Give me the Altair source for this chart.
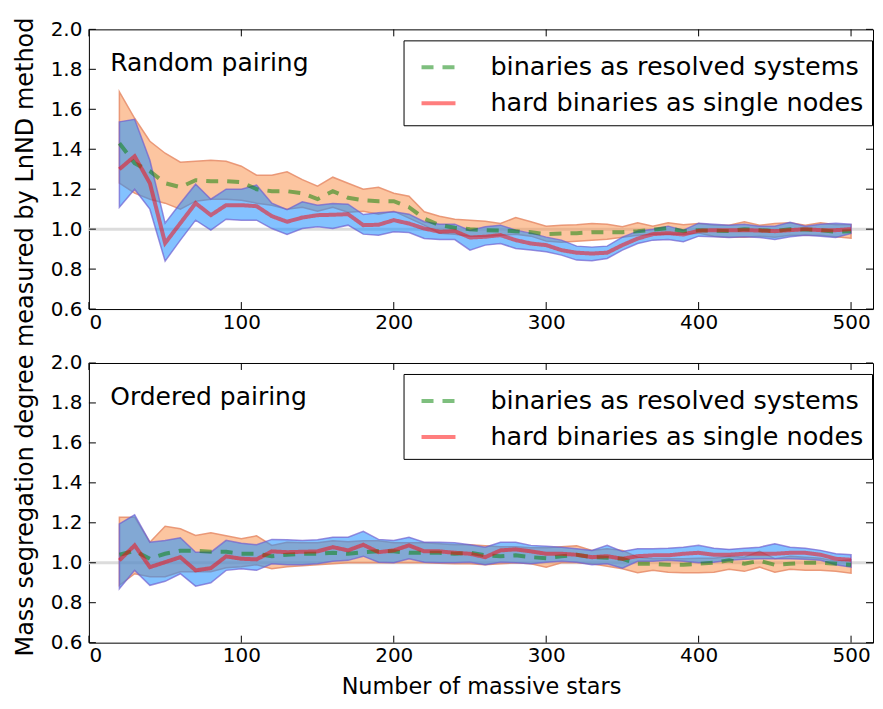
import altair as alt
import pandas as pd

W, H = 785, 280
X_MAX = 514.4

xs = list(range(20, 501, 10))
SERIES = ["binaries as resolved systems", "hard binaries as single nodes"]
x_ticks = [0, 100, 200, 300, 400, 500]
y_ticks = [0.6, 0.8, 1.0, 1.2, 1.4, 1.6, 1.8, 2.0]
panel_labels = ["Random pairing", "Ordered pairing"]
label_pos_x = [14]
label_pos_y = [1.79]

# ---------------- top panel (random pairing) ----------------
top_green = [1.43, 1.33, 1.29, 1.23, 1.21, 1.245, 1.24, 1.24, 1.235, 1.20,
             1.19, 1.19, 1.18, 1.15, 1.19, 1.157, 1.145, 1.14, 1.14, 1.11,
             1.053, 1.02, 1.007, 1.0, 0.995, 0.993, 0.99, 0.985, 0.975, 0.978,
             0.98, 0.985, 0.985, 0.985, 0.99, 0.997, 1.005, 0.99, 0.995, 0.993,
             0.99, 1.0, 0.995, 0.99, 1.0, 0.998, 0.995, 0.987, 0.99]
top_red = [1.30, 1.365, 1.23, 0.93, 1.03, 1.13, 1.07, 1.12, 1.12, 1.115,
           1.065, 1.037, 1.058, 1.07, 1.072, 1.075, 1.02, 1.022, 1.045, 1.028,
           1.003, 0.987, 0.99, 0.958, 0.962, 0.97, 0.945, 0.928, 0.92, 0.895,
           0.882, 0.878, 0.882, 0.92, 0.953, 0.975, 0.98, 0.973, 0.992, 0.995,
           0.995, 0.995, 0.993, 0.99, 0.995, 1.0, 0.995, 0.995, 1.0]
top_blue_hi = [1.537, 1.55, 1.345, 1.03, 1.13, 1.225, 1.15, 1.20, 1.20, 1.22,
               1.13, 1.098, 1.137, 1.12, 1.128, 1.125, 1.073, 1.082, 1.087, 1.075,
               1.037, 1.025, 1.025, 0.993, 1.012, 1.02, 0.995, 0.98, 0.96, 0.945,
               0.915, 0.91, 0.915, 0.96, 0.99, 1.0, 1.015, 0.995, 1.03, 1.025,
               1.02, 1.025, 1.015, 1.015, 1.035, 1.015, 1.025, 1.03, 1.025]
top_blue_lo = [1.11, 1.20, 1.10, 0.84, 0.945, 1.045, 0.995, 1.05, 1.045, 1.045,
               1.003, 0.973, 1.003, 1.012, 1.003, 1.02, 0.975, 0.97, 0.987, 0.983,
               0.953, 0.948, 0.948, 0.895, 0.92, 0.928, 0.903, 0.895, 0.887, 0.87,
               0.845, 0.842, 0.853, 0.895, 0.928, 0.945, 0.948, 0.937, 0.965, 0.962,
               0.958, 0.962, 0.958, 0.948, 0.962, 0.97, 0.965, 0.958, 0.978]
top_or_hi = [1.687, 1.555, 1.44, 1.38, 1.335, 1.34, 1.345, 1.34, 1.315, 1.27,
             1.27, 1.287, 1.248, 1.215, 1.26, 1.23, 1.20, 1.21, 1.18, 1.165,
             1.087, 1.065, 1.05, 1.045, 1.04, 1.028, 1.058, 1.037, 1.015, 1.02,
             1.022, 1.028, 1.025, 1.012, 1.032, 1.015, 1.032, 1.022, 1.028, 1.02,
             1.02, 1.037, 1.02, 1.028, 1.032, 1.02, 1.032, 1.022, 1.022]
top_or_lo = [1.23, 1.18, 1.15, 1.13, 1.10, 1.14, 1.15, 1.15, 1.145, 1.13,
             1.12, 1.10, 1.11, 1.09, 1.11, 1.085, 1.09, 1.075, 1.09, 1.055,
             1.02, 0.98, 0.975, 0.965, 0.965, 0.97, 0.975, 0.965, 0.94, 0.935,
             0.94, 0.945, 0.95, 0.96, 0.97, 0.975, 0.975, 0.975, 0.98, 0.965,
             0.96, 0.96, 0.965, 0.96, 0.97, 0.97, 0.97, 0.962, 0.955]

# ---------------- bottom panel (ordered pairing) ----------------
bot_green = [1.04, 1.06, 1.02, 1.045, 1.06, 1.06, 1.055, 1.055, 1.045, 1.045,
             1.033, 1.04, 1.045, 1.045, 1.05, 1.045, 1.053, 1.057, 1.057, 1.05,
             1.05, 1.05, 1.045, 1.05, 1.037, 1.033, 1.037, 1.028, 1.023, 1.033,
             1.04, 1.028, 1.025, 1.02, 0.995, 0.995, 0.99, 0.99, 0.995, 1.0,
             1.012, 0.995, 1.01, 0.99, 0.995, 1.0, 1.0, 0.995, 0.99]
bot_red = [1.012, 1.087, 0.978, 1.003, 1.028, 0.962, 0.973, 1.032, 1.02, 1.017,
           1.057, 1.053, 1.055, 1.057, 1.078, 1.062, 1.09, 1.053, 1.062, 1.087,
           1.057, 1.057, 1.05, 1.045, 1.028, 1.062, 1.067, 1.057, 1.045, 1.045,
           1.04, 1.028, 1.033, 1.02, 1.033, 1.037, 1.037, 1.045, 1.05, 1.04,
           1.04, 1.045, 1.045, 1.045, 1.05, 1.05, 1.04, 1.02, 1.015]
bot_blue_hi = [1.195, 1.24, 1.103, 1.112, 1.125, 1.053, 1.053, 1.112, 1.098, 1.09,
               1.117, 1.115, 1.112, 1.115, 1.128, 1.128, 1.157, 1.117, 1.112, 1.128,
               1.103, 1.103, 1.10, 1.09, 1.078, 1.103, 1.103, 1.087, 1.083, 1.078,
               1.07, 1.062, 1.087, 1.057, 1.07, 1.07, 1.073, 1.078, 1.087, 1.073,
               1.067, 1.073, 1.078, 1.095, 1.078, 1.073, 1.062, 1.045, 1.04]
bot_blue_lo = [0.87, 0.962, 0.887, 0.907, 0.945, 0.883, 0.90, 0.962, 0.97, 0.962,
               0.995, 0.99, 0.99, 0.995, 1.007, 1.012, 1.033, 1.003, 1.0, 1.02,
               1.003, 1.0, 1.0, 1.003, 0.99, 1.003, 1.0, 0.995, 1.003, 1.007,
               1.003, 0.99, 0.995, 0.973, 1.007, 1.007, 1.012, 1.007, 1.0, 1.003,
               1.012, 1.017, 1.02, 1.02, 1.02, 1.017, 1.012, 0.99, 0.978]
bot_or_hi = [1.228, 1.228, 1.103, 1.183, 1.17, 1.137, 1.15, 1.135, 1.12, 1.135,
             1.087, 1.103, 1.10, 1.10, 1.11, 1.105, 1.11, 1.11, 1.10, 1.10,
             1.10, 1.095, 1.09, 1.09, 1.085, 1.08, 1.08, 1.075, 1.075, 1.08,
             1.085, 1.062, 1.07, 1.062, 1.028, 1.02, 1.02, 1.02, 1.023, 1.023,
             1.033, 1.028, 1.057, 1.02, 1.033, 1.028, 1.023, 1.007, 1.015]
bot_or_lo = [0.887, 0.945, 0.93, 0.93, 0.955, 0.955, 0.955, 0.975, 0.98, 0.99,
             0.97, 0.98, 0.985, 0.99, 0.995, 1.0, 1.0, 1.0, 1.0, 1.0,
             1.0, 0.998, 0.995, 0.995, 0.99, 0.995, 1.0, 0.995, 0.978, 1.0,
             1.0, 0.995, 0.983, 0.97, 0.95, 0.962, 0.953, 0.95, 0.95, 0.953,
             0.967, 0.957, 0.978, 0.953, 0.967, 0.962, 0.962, 0.957, 0.948]

FONT = "DejaVu Sans"


def make_panel(label, green, red, ohi, olo, bhi, blo, xtitle, ytitle):
    xscale = alt.Scale(domain=[0, X_MAX], nice=False, zero=False)
    yscale = alt.Scale(domain=[0.6, 2.0], nice=False, zero=False)
    xaxis_kw = dict(values=x_ticks, format="d", ticks=False, domain=False, grid=False,
                    labelPadding=3, labelFontSize=20)
    if xtitle:
        xaxis_kw.update(title=xtitle, titleFontSize=22.4, titlePadding=9.5)
    else:
        xaxis_kw.update(title=None)
    yaxis_kw = dict(values=y_ticks, format=".1f", ticks=False, domain=False, grid=False,
                    labelPadding=7, labelFontSize=20)
    if ytitle:
        yaxis_kw.update(title=ytitle, titleFontSize=24, titleX=-56, titleY=307.5,
                        titleBaseline="alphabetic", titleAlign="center", titleAngle=270)
    else:
        yaxis_kw.update(title=None)
    xaxis = alt.Axis(**xaxis_kw)
    yaxis = alt.Axis(**yaxis_kw)

    def X(f):
        return alt.X(f, type="quantitative", scale=xscale, axis=xaxis)

    def Y(f):
        return alt.Y(f, type="quantitative", scale=yscale, axis=yaxis)

    band = pd.DataFrame({"x": xs, "ohi": ohi, "olo": olo, "bhi": bhi, "blo": blo})
    lines = pd.DataFrame({"x": xs + xs, "v": green + red,
                          "series": [SERIES[0]] * len(xs) + [SERIES[1]] * len(xs)})
    yt = pd.DataFrame({"t": y_ticks})
    xt = pd.DataFrame({"t": x_ticks})
    ann = pd.DataFrame({"x": label_pos_x, "y": label_pos_y, "t": [label]})

    ref = alt.Chart(pd.DataFrame({"r": [1.0]})).mark_rule(
        color="#dcdcdc", strokeWidth=3).encode(y=Y("r"))

    orange = alt.Chart(band).mark_area(
        fill="#f98b41", fillOpacity=0.5, stroke="#e8906e", strokeOpacity=0.9,
        strokeWidth=1.5).encode(x=X("x"), y=Y("ohi"), y2="olo")
    blue = alt.Chart(band).mark_area(
        fill="#1e90ff", fillOpacity=0.55, stroke="#7060d0", strokeOpacity=0.7,
        strokeWidth=1.5).encode(x=X("x"), y=Y("bhi"), y2="blo")

    leg = alt.Legend(title=None, orient="none", legendX=315, legendY=11,
                     symbolType="stroke", symbolSize=1156, symbolStrokeWidth=4,
                     symbolOpacity=0.5, symbolOffset=8, labelFontSize=25.5, labelFont=FONT,
                     labelColor="black", labelOffset=33, labelLimit=700,
                     padding=8, rowPadding=3, strokeColor="black", fillColor="white")
    line = alt.Chart(lines).mark_line(strokeWidth=4, opacity=0.5).encode(
        x=X("x"), y=Y("v"),
        color=alt.Color("series:N", scale=alt.Scale(domain=SERIES, range=["#008000", "#ff0000"]),
                        legend=leg),
        strokeDash=alt.StrokeDash("series:N",
                                  scale=alt.Scale(domain=SERIES, range=[[12, 9], [1, 0]]),
                                  legend=leg),
    )

    text = alt.Chart(ann).mark_text(align="left", baseline="alphabetic", fontSize=25,
                                    font=FONT, color="black").encode(
        x=X("x"), y=Y("y"), text="t:N")

    tl = alt.Chart(yt).mark_rule(color="black", strokeWidth=1).encode(
        y=Y("t"), x=alt.value(0), x2=alt.value(7))
    tr = alt.Chart(yt).mark_rule(color="black", strokeWidth=1).encode(
        y=Y("t"), x=alt.value(W - 7), x2=alt.value(W))
    tb = alt.Chart(xt).mark_rule(color="black", strokeWidth=1).encode(
        x=X("t"), y=alt.value(H - 7), y2=alt.value(H))
    tt = alt.Chart(xt).mark_rule(color="black", strokeWidth=1).encode(
        x=X("t"), y=alt.value(0), y2=alt.value(7))

    return alt.layer(ref, orange, blue, line, text, tl, tr, tb, tt).properties(
        width=W, height=H)


top = make_panel(panel_labels[0], top_green, top_red, top_or_hi, top_or_lo,
                 top_blue_hi, top_blue_lo, None,
                 "Mass segregation degree measured by LnND method")
bottom = make_panel(panel_labels[1], bot_green, bot_red, bot_or_hi, bot_or_lo,
                    bot_blue_hi, bot_blue_lo, "Number of massive stars", None)

chart = alt.vconcat(top, bottom, spacing=54, bounds="flush").resolve_legend(
    color="independent", strokeDash="independent"
).properties(
    padding={"left": 5, "top": 8, "right": 0, "bottom": 0}
).configure_view(
    stroke="black", strokeWidth=1
).configure_axis(
    labelFont=FONT, labelColor="black", titleFont=FONT, titleColor="black",
    titleFontWeight="normal"
)

chart.save("out.html", embed_options={"renderer": "svg", "actions": False})
